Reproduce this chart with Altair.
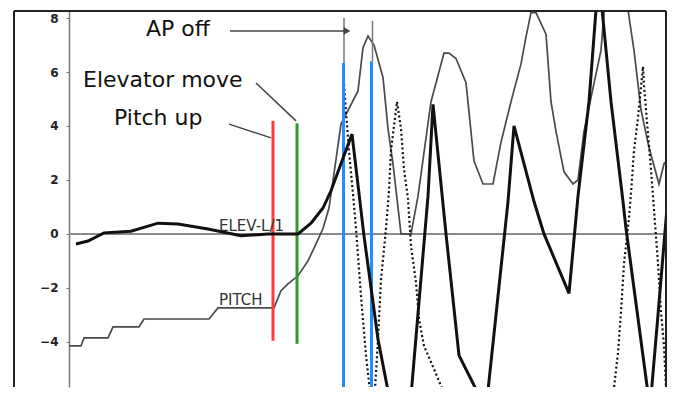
import altair as alt
import pandas as pd

# ---------------- data (time axis in arbitrary units, no labels) ----------------
pitch_t = [0, 2.4, 3.0, 7.8, 8.8, 14.0, 15.0, 28.0, 29.8, 41.0, 42.4, 43.8, 45.8, 47.8,
           49.4, 50.8, 52.0, 53.2, 54.4, 57.8, 58.8, 59.8, 61.0, 62.8, 63.8, 64.8, 66.4,
           68.4, 69.8, 72.4, 75.0, 76.0, 77.4, 79.4, 81.0, 82.8, 84.8, 86.4, 88.4, 90.4,
           91.4, 92.4, 93.4, 95.4, 96.4, 97.4, 99.0, 100.8, 101.8, 103.0, 104.8, 106.4,
           107.0, 109.4, 111.8, 113.0, 114.4, 116.0, 118.0, 119.0, 120.0, 121.0]
pitch_v = [-4.15, -4.15, -3.85, -3.85, -3.44, -3.44, -3.15, -3.15, -2.74, -2.74, -2.1, -1.85,
           -1.55, -1.0, -0.37, 0.2, 0.96, 2.5, 4.07, 5.3, 6.9, 7.33, 7.0, 5.8, 3.9, 2.6, 0.0,
           0.0, 1.4, 4.9, 6.7, 6.7, 6.5, 5.6, 2.7, 1.85, 1.85, 3.4, 4.9, 6.3,
           7.3, 8.2, 8.2, 7.4, 4.9, 3.8, 2.3, 1.85, 2.0, 3.8, 5.4, 6.8,
           8.2, 10.0, 8.3, 6.8, 4.6, 3.2, 1.85, 2.6, 2.8, 4.0]

elev_t = [1.4, 3.8, 7.0, 12.4, 17.8, 21.8, 27.8, 34.4, 39.8, 45.8, 48.4, 50.8, 52.4, 56.6,
          59.0, 61.8, 64.0, 66.4, 68.4, 71.8, 72.8, 75.4, 78.0, 81.8, 83.4, 87.8, 89.0,
          93.0, 95.0, 100.0, 101.8, 104.0, 105.4, 106.0, 108.4, 110.8, 111.4, 115.8,
          116.2, 117.8, 119.8, 121.0]
elev_v = [-0.37, -0.26, 0.04, 0.1, 0.4, 0.37, 0.18, -0.07, 0.0, 0.0, 0.4, 0.96, 1.6, 3.7,
          -0.07, -3.9, -6.0, -8.5, -6.0, 1.4, 4.8, 0.0, -4.5, -5.9, -6.5, 1.2, 4.0,
          1.2, 0.0, -2.2, 1.4, 4.9, 8.3, 9.5, 4.9, 1.2, 0.2, -5.9,
          -6.45, -3.0, 1.4, 4.5]

dot_t = [55.0, 55.4, 56.0, 56.8, 57.4, 58.4, 59.4, 60.0, 60.8, 61.8, 62.4, 63.4, 64.0, 64.4,
         65.6, 66.4, 67.0, 67.8, 68.4, 69.4, 70.0, 71.0, 73.0, 75.0, 76.4,
         108.0, 109.0, 109.8, 110.4, 111.0, 112.0, 112.4, 113.0, 113.8, 114.8, 115.0,
         115.8, 116.4, 117.0, 117.8, 118.4, 119.0, 119.4, 119.8]
dot_v = [5.55, 4.55, 3.07, 1.48, 0.2, -2.3, -4.5, -5.5, -7.0, -3.9, -1.7, 0.2, 1.6, 3.1,
         4.9, 3.9, 2.4, 1.3, -0.45, -1.8, -3.15, -4.15, -5.0, -5.9, -6.5,
         -6.5, -5.7, -4.4, -2.9, -1.1, 0.6, 1.5, 3.1, 4.3, 6.2, 5.5,
         3.7, 2.4, 0.9, -1.1, -2.9, -4.15, -5.7, -6.5]
dot_seg = [1] * 25 + [2] * 19

event_name = ["Pitch up", "Elevator move", "AP off 1", "AP off 2"]
event_t = [40.8, 45.6, 54.9, 60.5]
event_lo = [-3.96, -4.07, -6.5, -6.5]
event_hi = [4.19, 4.1, 6.33, 6.4]
event_color = ["#ff3b3b", "#2a9a2a", "#1e8fff", "#1e8fff"]

marker_t = [55.0, 60.7]
marker_lo = [6.33, 6.4]
marker_hi = [8.0, 7.9]

label_text = ["AP off", "Elevator move", "Pitch up"]
label_t = [15.4, 2.8, 9.0]
label_v = [7.59, 5.70, 4.30]

series_text = ["ELEV-L/1", "PITCH"]
series_t = [30.0, 30.0]
series_v = [0.0, -2.74]

leader_t = [32.2, 37.4, 32.0]
leader_v = [7.52, 5.59, 4.07]
leader_t2 = [55.6, 45.4, 40.4]
leader_v2 = [7.52, 4.19, 3.56]

y_ticks = [-6, -4, -2, 0, 2, 4, 6, 8]

# ---------------- chart ----------------
W, H = 652, 376
xs = alt.Scale(domain=[-11, 119.4], nice=False, zero=False)
ys = alt.Scale(domain=[-5.67, 8.26], nice=False, zero=False)
y_axis = alt.Axis(values=y_ticks, offset=-55, grid=False, title=None,
                  domainColor="#777", domainWidth=1.5, tickColor="#777", tickSize=3,
                  labelFont="DejaVu Sans", labelFontSize=12, labelFontWeight="bold",
                  labelColor="#222", labelPadding=8)

pitch_df = pd.DataFrame({"t": pitch_t, "v": pitch_v})
elev_df = pd.DataFrame({"t": elev_t, "v": elev_v})
dot_df = pd.DataFrame({"t": dot_t, "v": dot_v, "seg": dot_seg})
event_df = pd.DataFrame({"name": event_name, "t": event_t, "lo": event_lo, "hi": event_hi,
                         "c": event_color})
marker_df = pd.DataFrame({"t": marker_t, "lo": marker_lo, "hi": marker_hi})
label_df = pd.DataFrame({"text": label_text, "t": label_t, "v": label_v})
series_df = pd.DataFrame({"text": series_text, "t": series_t, "v": series_v})
leader_df = pd.DataFrame({"t": leader_t, "v": leader_v, "t2": leader_t2, "v2": leader_v2})
zero_df = pd.DataFrame({"t": [0.0], "t2": [121.0], "v": [0.0]})
arrow_df = pd.DataFrame({"t": [leader_t2[0]], "v": [leader_v2[0]]})


def X(f):
    return alt.X(f, scale=xs, axis=None)


def Y(f):
    return alt.Y(f, scale=ys, axis=y_axis)


zero = alt.Chart(zero_df).mark_rule(color="#8a8a8a", strokeWidth=2, clip=True).encode(
    x=X("t:Q"), x2="t2:Q", y=Y("v:Q"))

pitch = alt.Chart(pitch_df).mark_line(color="#4a4a4a", strokeWidth=1.7, clip=True).encode(
    x=X("t:Q"), y=Y("v:Q"), order="t:Q")

dotted = alt.Chart(dot_df).mark_line(color="#111", strokeWidth=2.2, strokeDash=[2, 2.6],
                                     clip=True).encode(
    x=X("t:Q"), y=Y("v:Q"), detail="seg:N", order="t:Q")

elev = alt.Chart(elev_df).mark_line(color="#111", strokeWidth=3, clip=True).encode(
    x=X("t:Q"), y=Y("v:Q"), order="t:Q")

events = alt.Chart(event_df).mark_rule(strokeWidth=3, clip=True).encode(
    x=X("t:Q"), y=Y("lo:Q"), y2="hi:Q",
    color=alt.Color("c:N", scale=None))

markers = alt.Chart(marker_df).mark_rule(color="#777", strokeWidth=1.5).encode(
    x=X("t:Q"), y=Y("lo:Q"), y2="hi:Q")

leaders = alt.Chart(leader_df).mark_rule(color="#444", strokeWidth=1.5).encode(
    x=X("t:Q"), y=Y("v:Q"), x2="t2:Q", y2="v2:Q")

arrow = alt.Chart(arrow_df).mark_point(shape="triangle-right", filled=True, color="#444",
                                       size=60, opacity=1).encode(x=X("t:Q"), y=Y("v:Q"))

labels = alt.Chart(label_df).mark_text(align="left", baseline="middle", font="DejaVu Sans",
                                       fontSize=22, color="#111").encode(
    x=X("t:Q"), y=Y("v:Q"), text="text:N")

series_labels = alt.Chart(series_df).mark_text(align="left", baseline="alphabetic", dy=-3,
                                               font="DejaVu Sans", fontSize=15,
                                               color="#333").encode(
    x=X("t:Q"), y=Y("v:Q"), text="text:N")

# frame (top, left, right edges; the bottom is cut off in the original)
frame_top = alt.Chart(zero_df).mark_rule(color="#222", strokeWidth=2).encode(
    x=alt.value(0), x2=alt.value(W), y=alt.value(0))
frame_left = alt.Chart(zero_df).mark_rule(color="#222", strokeWidth=2).encode(
    x=alt.value(0), y=alt.value(0), y2=alt.value(H))
frame_right = alt.Chart(zero_df).mark_rule(color="#222", strokeWidth=2).encode(
    x=alt.value(W), y=alt.value(0), y2=alt.value(H))

chart = alt.layer(zero, pitch, dotted, events, elev, markers, leaders, arrow, labels,
                  series_labels, frame_top, frame_left, frame_right).properties(
    width=W, height=H,
    padding={"left": 5, "top": 2, "right": 0, "bottom": 0},
).configure_view(stroke=None)

chart.save("out.html", embed_options={"renderer": "svg", "actions": False})
